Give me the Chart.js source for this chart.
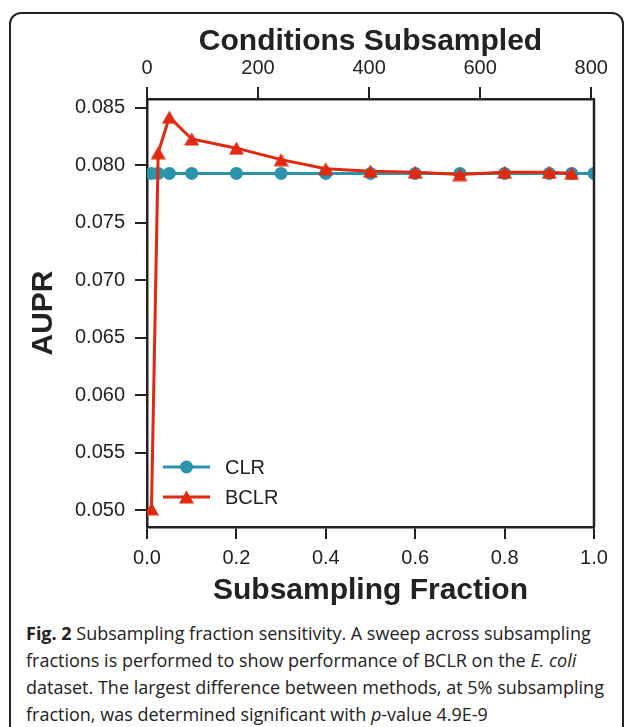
<!DOCTYPE html>
<html>
<head>
<meta charset="utf-8">
<script src="https://cdn.jsdelivr.net/npm/chart.js"></script>
<style>
  html, body { margin: 0; padding: 0; background: #fff; overflow: hidden; }
  body { width: 627px; height: 727px; position: relative; }
  #frame {
    position: absolute; left: 9px; top: 12px; width: 615px; height: 800px;
    border: 2px solid #222; border-radius: 12px; box-sizing: border-box;
  }
  #wrap { position: absolute; left: 0; top: 0; width: 627px; height: 615px; }
  #caption {
    position: absolute; left: 26px; top: 620px; width: 600px;
    font-family: "Open Sans", sans-serif; font-size: 18px; line-height: 27px;
    color: #222; white-space: nowrap;
  }
</style>
</head>
<body>
<div id="frame"></div>
<div id="wrap"><canvas id="Chart" width="627" height="615"></canvas></div>
<div id="caption">
  <b>Fig. 2</b> Subsampling fraction sensitivity. A sweep across subsampling<br>
  fractions is performed to show performance of BCLR on the <i>E. coli</i><br>
  dataset. The largest difference between methods, at 5% subsampling<br>
  fraction, was determined significant with <i>p</i>-value 4.9E-9
</div>
<script>
// subsampling fractions (bottom axis)
var clrFraction = [0.01, 0.025, 0.05, 0.1, 0.2, 0.3, 0.4, 0.5, 0.6, 0.7, 0.8, 0.9, 0.95, 1.0];
var clrAupr = [0.0793, 0.0793, 0.0793, 0.0793, 0.0793, 0.0793, 0.0793, 0.0793, 0.0793, 0.0793, 0.0793, 0.0793, 0.0793, 0.0793];
var bclrFraction = [0.01, 0.025, 0.05, 0.1, 0.2, 0.3, 0.4, 0.5, 0.6, 0.7, 0.8, 0.9, 0.95];
var bclrAupr = [0.0501, 0.0811, 0.0842, 0.0823, 0.0815, 0.0805, 0.0797, 0.0795, 0.0794, 0.0792, 0.0794, 0.0794, 0.0793];

var fractionTicks = [0, 0.2, 0.4, 0.6, 0.8, 1.0];
var conditionTicks = [0, 200, 400, 600, 800];
var auprTicks = [0.050, 0.055, 0.060, 0.065, 0.070, 0.075, 0.080, 0.085];
var totalConditions = 805;

var CLR_COLOR = '#2b93aa';
var BCLR_COLOR = '#e2290f';
var INK = '#222';

// matplotlib style "^" marker (centred on its bounding box)
function makeTriangle(color) {
    var c = document.createElement('canvas');
    c.width = 15; c.height = 14;
    var g = c.getContext('2d');
    g.fillStyle = color;
    g.beginPath();
    g.moveTo(7.5, 0.5);
    g.lineTo(15, 13.5);
    g.lineTo(0, 13.5);
    g.closePath();
    g.fill();
    return c;
}
var triangle = makeTriangle(BCLR_COLOR);

function toPoints(xs, ys) {
    return xs.map(function(x, i) { return {x: x, y: ys[i]}; });
}
function setTicks(values) {
    return function(scale) {
        scale.ticks = values.map(function(v) { return {value: v}; });
    };
}

// box around the plot + legend with line and marker
var boxAndLegend = {
    id: 'boxAndLegend',
    afterDatasetsDraw: function(chart) {
        var ctx = chart.ctx, a = chart.chartArea;
        ctx.save();
        ctx.strokeStyle = INK;
        ctx.lineWidth = 2.5;
        ctx.beginPath();
        ctx.moveTo(a.right, a.top);
        ctx.lineTo(a.right, a.bottom);
        ctx.stroke();

        var items = [
            {label: 'CLR', color: CLR_COLOR, y: a.bottom - 60, marker: 'circle'},
            {label: 'BCLR', color: BCLR_COLOR, y: a.bottom - 30, marker: 'tri'}
        ];
        var x0 = a.left + 16, x1 = a.left + 63, xm = (x0 + x1) / 2;
        items.forEach(function(it) {
            ctx.strokeStyle = it.color;
            ctx.lineWidth = 3;
            ctx.beginPath();
            ctx.moveTo(x0, it.y);
            ctx.lineTo(x1, it.y);
            ctx.stroke();
            if (it.marker === 'circle') {
                ctx.fillStyle = it.color;
                ctx.beginPath();
                ctx.arc(xm, it.y, 6.5, 0, Math.PI * 2);
                ctx.fill();
            } else {
                ctx.drawImage(triangle, xm - 7.5, it.y - 7);
            }
            ctx.fillStyle = INK;
            ctx.font = '20px "Liberation Sans", Arial, sans-serif';
            ctx.textBaseline = 'middle';
            ctx.textAlign = 'left';
            ctx.fillText(it.label, a.left + 78, it.y + 1);
        });
        ctx.restore();
    }
};

var tickFont = {family: '"Liberation Sans", Arial, sans-serif', size: 20};
var titleFont = {family: '"Liberation Sans", Arial, sans-serif', size: 30, weight: 'bold'};

var Chart1 = new Chart(document.getElementById('Chart').getContext('2d'), {
    type: 'line',
    data: {
        datasets: [{
            label: 'CLR',
            data: toPoints(clrFraction, clrAupr),
            borderColor: CLR_COLOR,
            backgroundColor: CLR_COLOR,
            borderWidth: 3,
            pointStyle: 'circle',
            pointRadius: 6.5,
            pointBorderWidth: 0,
            tension: 0,
            order: 1
        }, {
            label: 'BCLR',
            data: toPoints(bclrFraction, bclrAupr),
            borderColor: BCLR_COLOR,
            backgroundColor: BCLR_COLOR,
            borderWidth: 3,
            pointStyle: triangle,
            pointRadius: 7,
            tension: 0,
            order: 0
        }]
    },
    options: {
        responsive: false,
        animation: false,
        layout: {padding: {left: 0, right: 33, top: 0, bottom: 0}},
        plugins: {legend: {display: false}, tooltip: {enabled: false}},
        scales: {
            x: {
                type: 'linear', position: 'bottom', min: 0, max: 1,
                afterBuildTicks: setTicks(fractionTicks),
                afterFit: function(s) { s.height = 88; },
                ticks: {color: INK, font: tickFont, padding: 7, maxRotation: 0,
                    callback: function(v) { return v.toFixed(1); }},
                grid: {drawOnChartArea: false, drawTicks: true, tickLength: 12, color: INK, lineWidth: 2},
                border: {display: true, color: INK, width: 2.5},
                title: {display: true, text: 'Subsampling Fraction', color: INK, font: titleFont,
                    padding: {top: 0, bottom: 6}}
            },
            x2: {
                type: 'linear', position: 'top', min: 0, max: totalConditions,
                afterBuildTicks: setTicks(conditionTicks),
                afterFit: function(s) { s.height = 99; },
                ticks: {color: INK, font: tickFont, padding: 7, maxRotation: 0},
                grid: {drawOnChartArea: false, drawTicks: true, tickLength: 12, color: INK, lineWidth: 2},
                border: {display: true, color: INK, width: 2.5},
                title: {display: true, text: 'Conditions Subsampled', color: INK, font: titleFont,
                    padding: {top: 24, bottom: 0}}
            },
            y: {
                type: 'linear', position: 'left', min: 0.04852, max: 0.08578,
                afterBuildTicks: setTicks(auprTicks),
                afterFit: function(s) { s.width = 147; },
                ticks: {color: INK, font: tickFont, padding: 10,
                    callback: function(v) { return v.toFixed(3); }},
                grid: {drawOnChartArea: false, drawTicks: true, tickLength: 12, color: INK, lineWidth: 2},
                border: {display: true, color: INK, width: 2.5},
                title: {display: true, text: 'AUPR', color: INK, font: titleFont,
                    padding: {top: 26, bottom: 0}}
            }
        }
    },
    plugins: [boxAndLegend]
});
</script>
</body>
</html>
